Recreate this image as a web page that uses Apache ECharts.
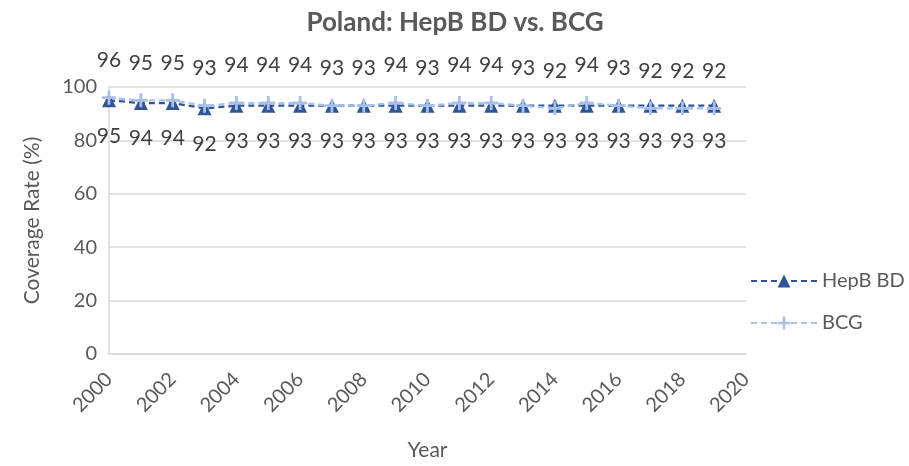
<!DOCTYPE html>
<html>
<head>
<meta charset="utf-8">
<script src="https://cdn.jsdelivr.net/npm/echarts@6/dist/echarts.min.js"></script>
<style>
  html, body { margin: 0; padding: 0; background: #fff; }
  #chart { width: 909px; height: 466px; }
</style>
</head>
<body>
<div id="chart"></div>
<script>
// data
var years = [2000, 2001, 2002, 2003, 2004, 2005, 2006, 2007, 2008, 2009,
             2010, 2011, 2012, 2013, 2014, 2015, 2016, 2017, 2018, 2019];
var hepbBD = [95, 94, 94, 92, 93, 93, 93, 93, 93, 93, 93, 93, 93, 93, 93, 93, 93, 93, 93, 93];
var bcg = [96, 95, 95, 93, 94, 94, 94, 93, 93, 94, 93, 94, 94, 93, 92, 94, 93, 92, 92, 92];

var font = 'Lato, "Open Sans", sans-serif';
var plusPath = 'path://M4,0 L6,0 L6,4 L10,4 L10,6 L6,6 L6,10 L4,10 L4,6 L0,6 L0,4 L4,4 Z';

var chartDom = document.getElementById('chart');
var myChart = echarts.init(chartDom);

var option = {
  animation: false,
  textStyle: { fontFamily: font },
  title: {
    text: 'Poland: HepB BD vs. BCG',
    left: 450,
    textAlign: 'center',
    top: 5,
    textStyle: { fontSize: 26, fontWeight: 'bold', color: '#595959', fontFamily: font }
  },
  grid: { left: 109, right: 163, top: 87, bottom: 109 },
  legend: {
    orient: 'vertical',
    left: 745,
    top: 266,
    itemGap: 22,
    itemWidth: 66,
    itemHeight: 16,
    textStyle: { fontSize: 20, color: '#595959', fontFamily: font },
    data: ['HepB BD', 'BCG']
  },
  xAxis: {
    type: 'value',
    min: 2000,
    max: 2020,
    interval: 2,
    name: 'Year',
    nameLocation: 'middle',
    nameGap: 86,
    nameTextStyle: { fontSize: 21, color: '#595959' },
    axisLine: { show: true, lineStyle: { color: '#D9D9D9', width: 1.5 } },
    axisTick: { show: false },
    splitLine: { show: false },
    axisLabel: { rotate: 45, fontSize: 20, color: '#595959', margin: 22, formatter: function (v) { return String(v); } }
  },
  yAxis: {
    type: 'value',
    min: 0,
    max: 100,
    interval: 20,
    name: 'Coverage Rate (%)',
    nameLocation: 'middle',
    nameGap: 66,
    nameTextStyle: { fontSize: 21, color: '#595959' },
    axisLine: { show: true, lineStyle: { color: '#D9D9D9', width: 1.5 } },
    axisTick: { show: false },
    splitLine: { show: true, lineStyle: { color: '#D9D9D9', width: 1.5 } },
    axisLabel: { fontSize: 20, color: '#595959', margin: 12 }
  },
  series: [
    {
      name: 'HepB BD',
      type: 'line',
      data: years.map(function (y, i) { return [y, hepbBD[i]]; }),
      symbol: 'triangle',
      symbolSize: 14,
      itemStyle: { color: '#2F5597' },
      lineStyle: { color: '#2F5597', width: 2.25, type: [6, 4] },
      label: {
        show: true,
        position: 'bottom',
        distance: 18,
        fontSize: 21,
        color: '#404040',
        formatter: function (p) { return p.value[1]; }
      },
      z: 2
    },
    {
      name: 'BCG',
      type: 'line',
      data: years.map(function (y, i) { return [y, bcg[i]]; }),
      symbol: plusPath,
      symbolSize: 14,
      itemStyle: { color: '#A9C1E8' },
      lineStyle: { color: '#A9C1E8', width: 2.25, type: [6, 4] },
      label: {
        show: true,
        position: 'top',
        distance: 20,
        fontSize: 21,
        color: '#404040',
        formatter: function (p) { return p.value[1]; }
      },
      z: 3
    }
  ]
};

myChart.setOption(option);
</script>
</body>
</html>
